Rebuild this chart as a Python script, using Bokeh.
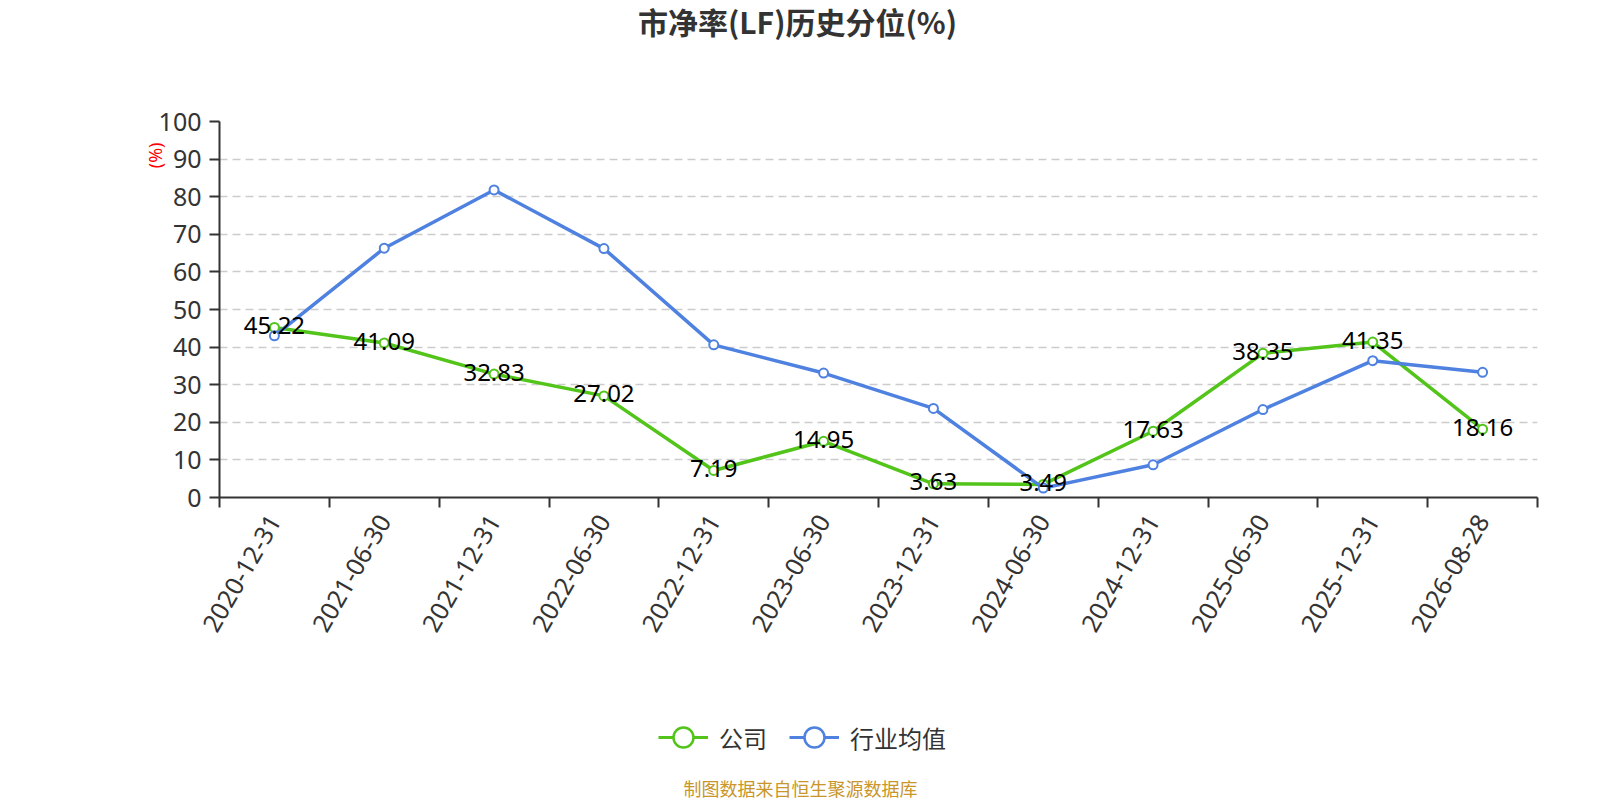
import math
from bokeh.plotting import figure
from bokeh.layouts import column
from bokeh.models import (Range1d, FixedTicker, Label, Legend, LegendItem,
                          ColumnDataSource, Title)
from bokeh.embed import file_html
from bokeh.resources import INLINE
from bokeh.core.properties import value

# ---- data ----
dates = ["2020-12-31", "2021-06-30", "2021-12-31", "2022-06-30", "2022-12-31",
         "2023-06-30", "2023-12-31", "2024-06-30", "2024-12-31", "2025-06-30",
         "2025-12-31", "2026-08-28"]
company = [45.22, 41.09, 32.83, 27.02, 7.19, 14.95, 3.63, 3.49, 17.63, 38.35,
           41.35, 18.16]
industry = [43.0, 66.3, 81.8, 66.2, 40.6, 33.1, 23.7, 2.5, 8.7, 23.4, 36.4, 33.3]
y_ticks = [0, 10, 20, 30, 40, 50, 60, 70, 80, 90, 100]

title_text = "市净率(LF)历史分位(%)"
series_names = ["公司", "行业均值"]
unit_text = "(%)"
source_text = "制图数据来自恒生聚源数据库"

GREEN = "#52c41a"
BLUE = "#4e81e0"
NUM_FONT = "Noto Sans"
CJK_FONT = "Noto Sans CJK SC"
W = 1600
LEFT = 219
RIGHT = 63
TOP_H = 100
MAIN_H = 557
BOT_H = 800 - TOP_H - MAIN_H

n = len(dates)
xs = [i + 0.5 for i in range(n)]

src = ColumnDataSource(dict(
    x=xs, company=company, industry=industry,
    lab=["%.2f" % v for v in company],
))


def blank(h):
    # frame aligned with the main chart's frame; x in page pixels
    f = figure(width=W, height=h, output_backend="svg", toolbar_location=None,
               x_range=Range1d(LEFT, W - RIGHT), y_range=Range1d(0, h),
               x_axis_location=None, y_axis_location=None,
               min_border_left=LEFT, min_border_right=RIGHT,
               min_border_top=0, min_border_bottom=0)
    f.outline_line_color = None
    f.grid.visible = False
    return f


# ---- title strip ----
top = blank(TOP_H)
top.add_layout(Label(x=797, y=TOP_H - 20, text=title_text, text_align="center",
                     text_baseline="middle", text_font=CJK_FONT,
                     text_font_size="30px", text_font_style="bold",
                     text_color="#333333"))

# ---- main chart ----
p = figure(width=W, height=MAIN_H, output_backend="svg", toolbar_location=None,
           x_range=Range1d(0, n), y_range=Range1d(0, 100),
           min_border_left=LEFT, min_border_right=RIGHT,
           min_border_top=121 - TOP_H, min_border_bottom=MAIN_H - (121 - TOP_H) - 376)
p.outline_line_color = None

xa = p.xaxis[0]
xa.ticker = FixedTicker(ticks=xs, minor_ticks=list(range(n + 1)))
xa.major_label_overrides = {x: d for x, d in zip(xs, dates)}
xa.major_label_orientation = math.radians(60)
xa.major_tick_line_color = None
xa.major_tick_out = 0
xa.major_tick_in = 0
xa.minor_tick_out = 10
xa.minor_tick_in = 0
xa.minor_tick_line_color = "#333333"
xa.minor_tick_line_width = 2
xa.axis_line_color = "#333333"
xa.axis_line_width = 2
xa.major_label_text_font = NUM_FONT
xa.major_label_text_font_size = "25px"
xa.major_label_text_color = "#333333"
xa.major_label_standoff = 9

ya = p.yaxis[0]
ya.ticker = FixedTicker(ticks=y_ticks)
ya.minor_tick_line_color = None
ya.major_tick_out = 10
ya.major_tick_in = 0
ya.major_tick_line_color = "#333333"
ya.major_tick_line_width = 2
ya.axis_line_color = "#333333"
ya.axis_line_width = 2
ya.major_label_text_font = NUM_FONT
ya.major_label_text_font_size = "25px"
ya.major_label_text_color = "#333333"
ya.major_label_standoff = 8

p.xgrid.grid_line_color = None
p.ygrid.ticker = FixedTicker(ticks=y_ticks[1:])
p.ygrid.grid_line_color = "#cccccc"
p.ygrid.grid_line_width = 1.5
p.ygrid.grid_line_dash = "8 5"

p.add_layout(Title(text=unit_text, align="right", offset=21,
                   vertical_align="bottom", standoff=-22, text_color="red",
                   text_font=NUM_FONT, text_font_size="18px",
                   text_font_style="normal"), "left")

g_line = p.line("x", "company", source=src, line_color=GREEN, line_width=3.5)
g_pts = p.scatter("x", "company", source=src, size=9, marker="circle",
                  fill_color="white", line_color=GREEN, line_width=2)
b_line = p.line("x", "industry", source=src, line_color=BLUE, line_width=3.5)
b_pts = p.scatter("x", "industry", source=src, size=9, marker="circle",
                  fill_color="white", line_color=BLUE, line_width=2)

p.text("x", "company", text="lab", source=src, text_align="center",
       text_baseline="middle", y_offset=-2, text_font=value(NUM_FONT),
       text_font_size="24px", text_color="black")

# ---- legend + source strip ----
bot = blank(BOT_H)
lg = [bot.line("x", "company", source=src, line_color=GREEN, line_width=3, visible=False),
      bot.scatter("x", "company", source=src, marker="circle", fill_color="white",
                  line_color=GREEN, line_width=2.5, visible=False)]
lb = [bot.line("x", "industry", source=src, line_color=BLUE, line_width=3, visible=False),
      bot.scatter("x", "industry", source=src, marker="circle", fill_color="white",
                  line_color=BLUE, line_width=2.5, visible=False)]
legend = Legend(items=[LegendItem(label=series_names[0], renderers=lg),
                       LegendItem(label=series_names[1], renderers=lb)],
                orientation="horizontal", location=(658 - LEFT, BOT_H - 80 - 28),
                glyph_width=50, glyph_height=56, label_standoff=11, spacing=22,
                padding=0, margin=0, border_line_color=None,
                background_fill_alpha=0, inactive_fill_alpha=0,
                label_text_font=CJK_FONT, label_text_font_size="24px",
                label_text_color="#333333")
bot.add_layout(legend, "center")
bot.add_layout(Label(x=800, y=BOT_H - 130, text=source_text, text_align="center",
                     text_baseline="middle", text_font=CJK_FONT,
                     text_font_size="18px", text_color="#c8962a"))

layout = column(top, p, bot, spacing=0)
open("out.html", "w").write(file_html(layout, INLINE))
